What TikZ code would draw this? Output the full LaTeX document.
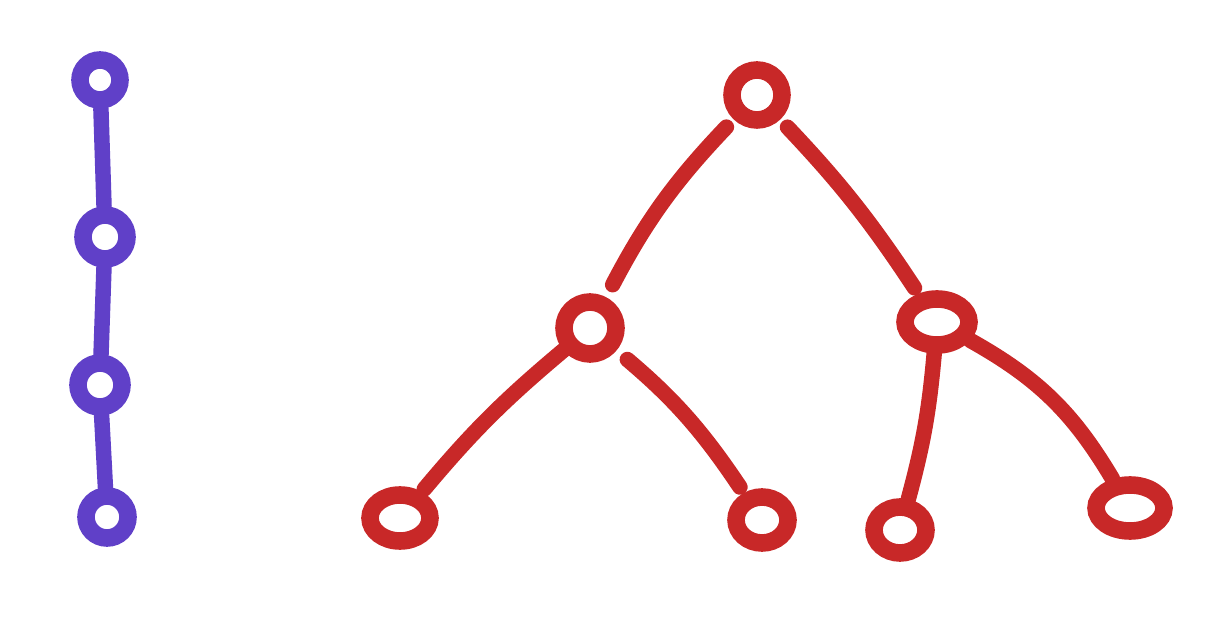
\documentclass[tikz,border=0pt]{standalone}
\usetikzlibrary{shapes.geometric}
\definecolor{chainpurple}{RGB}{96,64,200}
\definecolor{treered}{RGB}{200,40,40}
\tikzset{
  knot/.style={circle, draw, line width=5pt, inner sep=0pt, minimum size=#1},
  leaf/.style={ellipse, draw, line width=5pt, inner sep=0pt, minimum width=#1, minimum height=0.46cm},
  link/.style={line width=4.4pt, line cap=round}
}
\begin{document}
\begin{tikzpicture}
\useasboundingbox (0,0) rectangle (12.16,-6.36);
% chain
\node[knot=0.40cm, chainpurple] (p1) at (1.00,-0.80) {};
\node[knot=0.44cm, chainpurple] (p2) at (1.05,-2.37) {};
\node[knot=0.44cm, chainpurple] (p3) at (1.00,-3.85) {};
\node[knot=0.42cm, chainpurple] (p4) at (1.07,-5.17) {};
\draw[link, chainpurple] (p1) -- (p2);
\draw[link, chainpurple] (p2) -- (p3);
\draw[link, chainpurple] (p3) -- (p4);
%
% tree
\node[knot=0.50cm, treered] (r) at (7.57,-0.95) {};
\node[knot=0.52cm, treered] (a) at (5.90,-3.28) {};
\node[leaf=0.64cm, treered] (b) at (9.37,-3.22) {};
\node[leaf=0.60cm, treered] (aa) at (4.00,-5.18) {};
\node[leaf=0.52cm, treered] (ab) at (7.62,-5.20) {};
\node[leaf=0.52cm, treered] (ba) at (9.00,-5.30) {};
\node[leaf=0.68cm, treered] (bb) at (11.30,-5.08) {};
\draw[link, treered, shorten <=3pt, shorten >=4pt] (r) to[bend right=8] (a);
\draw[link, treered, shorten <=3pt, shorten >=2pt] (r) to[bend left=5] (b);
\draw[link, treered, shorten >=1pt] (a) to[bend right=5] (aa);
\draw[link, treered, shorten <=4pt, shorten >=2pt] (a) to[bend left=8] (ab);
\draw[link, treered] (b) to[bend left=5] (ba);
\draw[link, treered] (b) to[bend left=15] (bb);
\end{tikzpicture}
\end{document}
